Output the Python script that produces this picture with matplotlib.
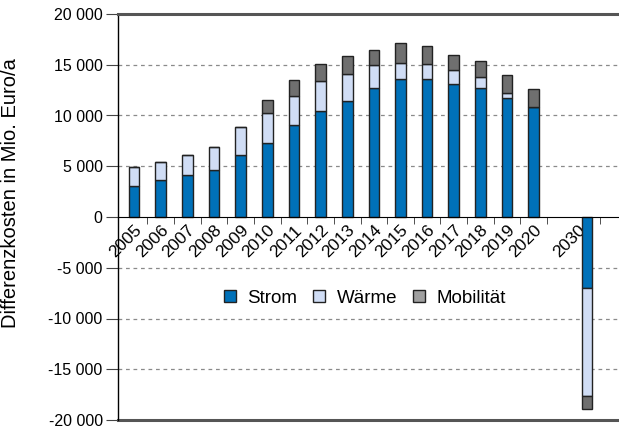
import numpy as np
import matplotlib.pyplot as plt
import matplotlib.transforms as mtransforms
from matplotlib.patches import Patch
from matplotlib.ticker import FuncFormatter, FixedLocator

plt.rcParams['font.family'] = ['Liberation Sans', 'DejaVu Sans']
plt.rcParams['font.size'] = 11

# --- Data (Mio. Euro/a) ---
years = ["2005", "2006", "2007", "2008", "2009", "2010", "2011", "2012",
         "2013", "2014", "2015", "2016", "2017", "2018", "2019", "2020", "2030"]
strom = [3100, 3600, 4100, 4600, 6100, 7300, 9100, 10450, 11450, 12750,
         13600, 13550, 13100, 12750, 11750, 10800, -6950]
waerme = [1850, 1800, 2050, 2250, 2750, 2950, 2850, 2950, 2650, 2250,
          1600, 1500, 1350, 1000, 450, 0, -10650]
mobil = [0, 0, 0, 0, 0, 1250, 1500, 1650, 1800, 1500,
         1950, 1750, 1550, 1650, 1750, 1800, -1300]

# slot positions: one empty slot between 2020 and 2030
pos = np.array(list(range(16)) + [17])

c_strom = "#0071b9"
c_waerme = "#d0ddf5"
c_mobil = "#6f6f6f"
edge = "#222222"

fig = plt.figure(figsize=(6.19, 4.29), dpi=100)
ax = fig.add_axes([118 / 619, 9 / 429, 501 / 619, 406 / 429])

# x axis sits at zero (set before tick labels, it resets ticks)
ax.spines["bottom"].set_position(("data", 0))
ax.spines["bottom"].set_zorder(4)
ax.spines["right"].set_visible(False)
ax.spines["top"].set_color("#555555")
ax.spines["top"].set_linewidth(2.2)
ax.spines["left"].set_linewidth(1.0)

s = np.array(strom, float)
w = np.array(waerme, float)
m = np.array(mobil, float)
bw = 0.4
ax.bar(pos, s, bw, color=c_strom, edgecolor=edge, lw=1, zorder=3)
ax.bar(pos, w, bw, bottom=s, color=c_waerme, edgecolor=edge, lw=1, zorder=3)
ax.bar(pos, m, bw, bottom=s + w, color=c_mobil, edgecolor=edge, lw=1, zorder=3)

ax.set_xlim(-0.6, 18.2)
ax.set_ylim(-20000, 20000)
ax.set_yticks(np.arange(-20000, 20001, 5000))
ax.yaxis.set_major_formatter(FuncFormatter(lambda v, p: f"{int(v):,}".replace(",", " ")))

for v in [-15000, -10000, -5000, 5000, 10000, 15000]:
    ax.axhline(v, color="#8a8a8a", lw=0.9, ls=(0, (3, 3)), zorder=1)
ax.axhline(-20000, color="#555555", lw=2.2, zorder=2, clip_on=False)

ax.set_xticks(pos)
ax.set_xticklabels(years, rotation=45, ha="right", rotation_mode="anchor", fontsize=12.5)
ax.xaxis.set_minor_locator(FixedLocator([p + 0.5 for p in range(16)] + [17.5]))
ax.tick_params(axis="x", which="major", length=0, pad=4)
ax.tick_params(axis="x", which="minor", length=5, color="#333333")
ax.tick_params(axis="y", length=9, color="#444444", pad=2, labelsize=11.5)

# 2030 label sits left of its (negative) bar
lbl = ax.get_xticklabels()[-1]
lbl.set_transform(lbl.get_transform() + mtransforms.ScaledTranslation(-9 / 100, 0, fig.dpi_scale_trans))

ax.set_ylabel("Differenzkosten in Mio. Euro/a", fontsize=14.5)
ax.yaxis.set_label_coords(-0.195, 0.56)

handles = [Patch(facecolor=c_strom, edgecolor=edge, label="Strom"),
           Patch(facecolor=c_waerme, edgecolor=edge, label="Wärme"),
           Patch(facecolor="#a0a0a0", edgecolor=edge, label="Mobilität")]
ax.legend(handles=handles, loc="center", bbox_to_anchor=(0.493, 0.30), ncol=3,
          frameon=False, handlelength=0.64, handleheight=0.64,
          handletextpad=0.6, columnspacing=0.85, fontsize=13.5)

plt.savefig("out.png", dpi=100)
